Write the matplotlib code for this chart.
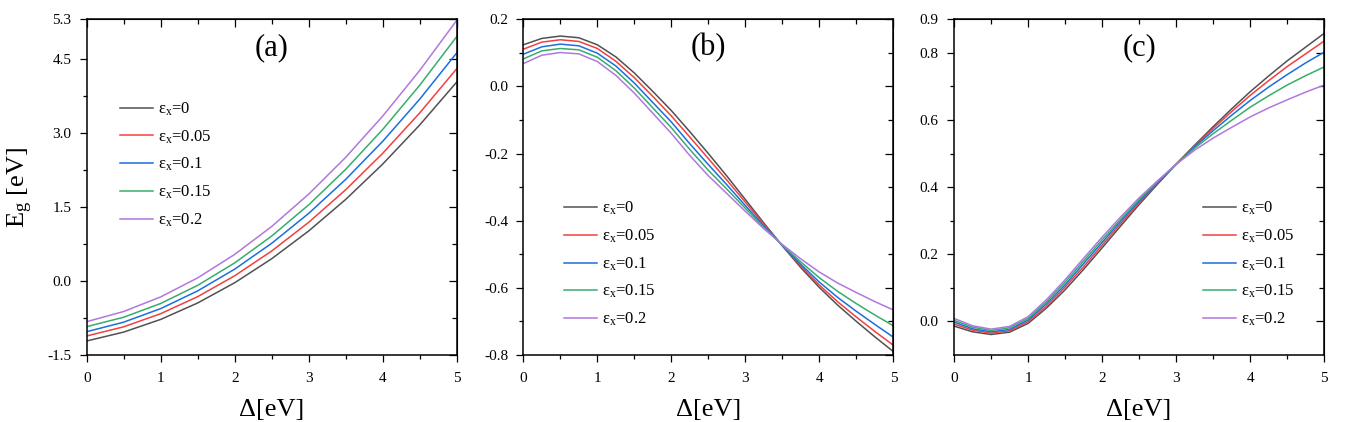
import numpy as np
import matplotlib
matplotlib.use('Agg')
import matplotlib.pyplot as plt

plt.rcParams['font.family'] = 'Liberation Serif'
plt.rcParams['mathtext.fontset'] = 'custom'
plt.rcParams['mathtext.rm'] = 'Liberation Serif'
plt.rcParams['mathtext.it'] = 'Liberation Serif:italic'

# strain values and colours (Origin-like palette)
strains = ['0', '0.05', '0.1', '0.15', '0.2']
colors = ['#515151', '#F14040', '#1A6FDF', '#37AD6B', '#B177DE']

# panel (a): coarse grid, curves are smooth
delta_a = [0.0, 0.5, 1.0, 1.5, 2.0, 2.5, 3.0, 3.5, 4.0, 4.5, 5.0]
eg_a = [
    [-1.216, -1.036, -0.779, -0.446, -0.036, 0.450, 1.013, 1.652, 2.368, 3.160, 4.029],
    [-1.115, -0.929, -0.663, -0.318, 0.105, 0.607, 1.188, 1.848, 2.586, 3.404, 4.300],
    [-1.028, -0.835, -0.560, -0.201, 0.239, 0.763, 1.369, 2.058, 2.829, 3.683, 4.620],
    [-0.926, -0.735, -0.456, -0.089, 0.366, 0.910, 1.542, 2.262, 3.069, 3.965, 4.950],
    [-0.825, -0.619, -0.323, 0.063, 0.538, 1.104, 1.759, 2.505, 3.340, 4.265, 5.280],
]

# panels (b) and (c): finer grid
delta_bc = [0.0, 0.25, 0.5, 0.75, 1.0, 1.25, 1.5, 1.75, 2.0, 2.25, 2.5,
            2.75, 3.0, 3.25, 3.5, 3.75, 4.0, 4.25, 4.5, 4.75, 5.0]
eg_b = [
    [0.124, 0.143, 0.150, 0.145, 0.124, 0.088, 0.040, -0.015, -0.072, -0.135, -0.200,
     -0.267, -0.337, -0.407, -0.475, -0.540, -0.599, -0.652, -0.700, -0.746, -0.790],
    [0.111, 0.132, 0.139, 0.134, 0.113, 0.075, 0.026, -0.030, -0.088, -0.151, -0.215,
     -0.279, -0.345, -0.411, -0.474, -0.535, -0.592, -0.642, -0.687, -0.730, -0.771],
    [0.096, 0.118, 0.126, 0.121, 0.099, 0.061, 0.010, -0.048, -0.106, -0.171, -0.233,
     -0.293, -0.355, -0.416, -0.474, -0.530, -0.583, -0.629, -0.670, -0.709, -0.747],
    [0.082, 0.106, 0.113, 0.109, 0.087, 0.047, -0.005, -0.064, -0.123, -0.188, -0.250,
     -0.306, -0.363, -0.420, -0.473, -0.523, -0.570, -0.611, -0.647, -0.681, -0.713],
    [0.068, 0.093, 0.101, 0.097, 0.074, 0.033, -0.020, -0.080, -0.140, -0.206, -0.266,
     -0.319, -0.372, -0.424, -0.471, -0.514, -0.553, -0.586, -0.614, -0.641, -0.666],
]
eg_c = [
    [-0.014, -0.031, -0.039, -0.032, -0.006, 0.040, 0.094, 0.155, 0.219, 0.284, 0.348,
     0.409, 0.468, 0.525, 0.580, 0.633, 0.684, 0.731, 0.776, 0.817, 0.858],
    [-0.008, -0.026, -0.035, -0.028, -0.001, 0.046, 0.102, 0.163, 0.227, 0.291, 0.353,
     0.412, 0.468, 0.523, 0.575, 0.625, 0.673, 0.717, 0.759, 0.797, 0.835],
    [-0.002, -0.022, -0.031, -0.024, 0.004, 0.053, 0.109, 0.172, 0.235, 0.298, 0.358,
     0.414, 0.468, 0.520, 0.568, 0.614, 0.658, 0.698, 0.735, 0.770, 0.802],
    [0.003, -0.017, -0.027, -0.019, 0.009, 0.059, 0.117, 0.180, 0.243, 0.304, 0.363,
     0.417, 0.468, 0.516, 0.559, 0.599, 0.638, 0.672, 0.704, 0.732, 0.758],
    [0.009, -0.013, -0.023, -0.015, 0.014, 0.065, 0.124, 0.188, 0.251, 0.311, 0.368,
     0.419, 0.468, 0.510, 0.546, 0.578, 0.609, 0.636, 0.660, 0.683, 0.704],
]

# axis settings per panel
ylims = [(-1.5, 5.3), (-0.8, 0.2), (-0.1, 0.9)]
yticks = [[-1.5, 0.0, 1.5, 3.0, 4.5, 5.3],
          [-0.8, -0.6, -0.4, -0.2, 0.0, 0.2],
          [0.0, 0.2, 0.4, 0.6, 0.8, 0.9]]
ytick_labels = [['-1.5', '0.0', '1.5', '3.0', '4.5', '5.3'],
                ['-0.8', '-0.6', '-0.4', '-0.2', '0.0', '0.2'],
                ['0.0', '0.2', '0.4', '0.6', '0.8', '0.9']]
yminor = [[-0.75, 0.75, 2.25, 3.75],
          [-0.7, -0.5, -0.3, -0.1, 0.1],
          [0.1, 0.3, 0.5, 0.7]]
xticks = [0, 1, 2, 3, 4, 5]
xminor = [0.5, 1.5, 2.5, 3.5, 4.5]
panel_tags = ['(a)', '(b)', '(c)']
legend_pos = [(0.09, 0.758), (0.11, 0.462), (0.673, 0.462)]

fig = plt.figure(figsize=(13.7, 4.22), dpi=100)
lefts = [0.0633, 0.3820, 0.6964]
axs = [fig.add_axes([l, 0.1588, 0.2701, 0.7955]) for l in lefts]

data = [(delta_a, eg_a), (delta_bc, eg_b), (delta_bc, eg_c)]

for i, ax in enumerate(axs):
    xs, ys = data[i]
    for j, s in enumerate(strains):
        ax.plot(xs, ys[j], color=colors[j], lw=1.1,
                label='ε$_\\mathregular{x}$=' + s)

    ax.set_xlim(0, 5)
    ax.set_ylim(*ylims[i])
    ax.set_xticks(xticks, labels=[str(t) for t in xticks])
    ax.set_xticks(xminor, minor=True)
    ax.set_yticks(yticks[i], labels=ytick_labels[i])
    ax.set_yticks(yminor[i], minor=True)
    ax.tick_params(which='both', direction='out', labelsize=11, width=0.9)
    ax.tick_params(which='major', length=5)
    ax.tick_params(which='minor', length=3)
    ax.tick_params(axis='x', pad=7)
    ax.tick_params(axis='y', pad=6)
    for sp in ax.spines.values():
        sp.set_linewidth(1.1)

    # mirrored ticks on top and right, pointing inwards
    top = ax.secondary_xaxis('top')
    top.set_xticks(xticks)
    top.set_xticks(xminor, minor=True)
    top.tick_params(which='both', direction='in', labeltop=False, width=0.9)
    top.tick_params(which='major', length=6)
    top.tick_params(which='minor', length=3.5)
    top.set_xticklabels([])
    right = ax.secondary_yaxis('right')
    right.set_yticks(yticks[i])
    right.set_yticks(yminor[i], minor=True)
    right.tick_params(which='both', direction='in', labelright=False, width=0.9)
    right.tick_params(which='major', length=6)
    right.tick_params(which='minor', length=3.5)
    right.set_yticklabels([])

    ax.set_xlabel('Δ[eV]', fontsize=19)
    ax.xaxis.set_label_coords(0.5, -0.13)
    ax.text(0.5, 0.915, panel_tags[i], transform=ax.transAxes,
            fontsize=22, ha='center', va='center')
    ax.legend(loc='upper left', bbox_to_anchor=legend_pos[i], frameon=False,
              fontsize=12, handlelength=2.0, handletextpad=0.3,
              labelspacing=0.62, borderpad=0, borderaxespad=0)

axs[0].set_ylabel('E$_\\mathregular{g}$ [eV]', fontsize=19)
axs[0].yaxis.set_label_coords(-0.14, 0.5)

fig.savefig('out.png', dpi=100)
